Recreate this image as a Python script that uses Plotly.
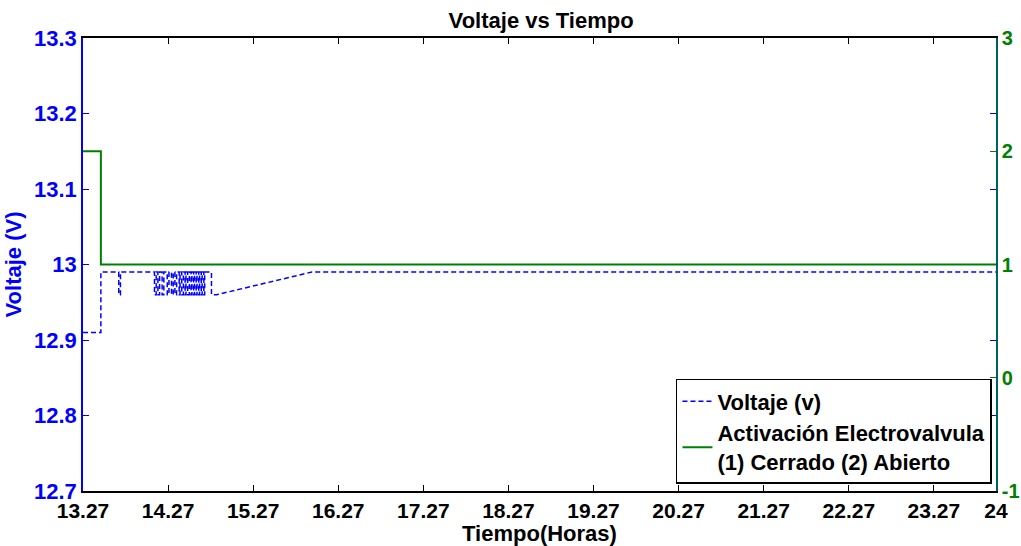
import plotly.graph_objects as go

# ---- data ----
volt_t = [13.27, 13.48, 13.48, 13.69, 13.69, 13.71, 13.71,
          14.11, 14.11, 14.13, 14.13, 14.15, 14.15, 14.17, 14.17, 14.20, 14.20, 14.22, 14.22,
          14.26, 14.26, 14.28, 14.28, 14.31, 14.31, 14.33, 14.33, 14.35, 14.35, 14.37, 14.37,
          14.40, 14.40, 14.41, 14.41, 14.43, 14.43, 14.45, 14.45, 14.47, 14.47, 14.48, 14.48,
          14.50, 14.50, 14.52, 14.52, 14.54, 14.54, 14.55, 14.55, 14.57, 14.57, 14.58, 14.58,
          14.60, 14.60, 14.61, 14.61, 14.63, 14.63, 14.64, 14.64, 14.66, 14.66, 14.67, 14.67,
          14.69, 14.69, 14.70, 14.70, 14.78, 14.78, 14.84, 15.96, 24.0]
volt_v = [12.91, 12.91, 12.99, 12.99, 12.96, 12.96, 12.99,
          12.99, 12.96, 12.96, 12.99, 12.99, 12.96, 12.96, 12.99, 12.99, 12.96, 12.96, 12.99,
          12.99, 12.96, 12.96, 12.99, 12.99, 12.96, 12.96, 12.99, 12.99, 12.96, 12.96, 12.99,
          12.99, 12.96, 12.96, 12.99, 12.99, 12.96, 12.96, 12.99, 12.99, 12.96, 12.96, 12.99,
          12.99, 12.96, 12.96, 12.99, 12.99, 12.96, 12.96, 12.99, 12.99, 12.96, 12.96, 12.99,
          12.99, 12.96, 12.96, 12.99, 12.99, 12.96, 12.96, 12.99, 12.99, 12.96, 12.96, 12.99,
          12.99, 12.96, 12.96, 12.99, 12.99, 12.96, 12.96, 12.99, 12.99]

valve_t = [13.27, 13.48, 13.48, 24.0]
valve_v = [2, 2, 1, 1]

x_tickvals = [13.27, 14.27, 15.27, 16.27, 17.27, 18.27, 19.27, 20.27, 21.27, 22.27, 23.27, 24]
x_ticktext = ["13.27", "14.27", "15.27", "16.27", "17.27", "18.27", "19.27",
              "20.27", "21.27", "22.27", "23.27", "24"]
y_tickvals = [12.7, 12.8, 12.9, 13.0, 13.1, 13.2, 13.3]
y_ticktext = ["12.7", "12.8", "12.9", "13", "13.1", "13.2", "13.3"]
y2_tickvals = [-1, 0, 1, 2, 3]
y2_ticktext = ["-1", "0", "1", "2", "3"]

FONT = "Liberation Sans, Arial, sans-serif"
BLUE = "#0000ff"
GREEN = "#008000"


def bold(labels):
    return ["<b>%s</b>" % t for t in labels]


fig = go.Figure()
fig.add_trace(go.Scatter(x=volt_t, y=volt_v, mode="lines", name="<b>Voltaje (v)</b>",
                         line=dict(color=BLUE, width=1.5, dash="5px,3px"), yaxis="y"))
fig.add_trace(go.Scatter(x=valve_t, y=valve_v, mode="lines",
                         name="<b>Activación Electrovalvula<br>(1) Cerrado (2) Abierto</b>",
                         line=dict(color=GREEN, width=2), yaxis="y2"))

fig.update_layout(
    width=1021, height=546,
    margin=dict(l=83, r=25, t=38, b=55, autoexpand=False),
    plot_bgcolor="white", paper_bgcolor="white",
    font=dict(family=FONT, size=22, color="black"),
    title=dict(text="<b>Voltaje vs Tiempo</b>", x=0.53, xanchor="center",
               y=1 - 20 / 546, yanchor="middle", yref="container",
               font=dict(size=22, color="black")),
    xaxis=dict(range=[13.27, 24], tickvals=x_tickvals, ticktext=bold(x_ticktext),
               ticks="inside", ticklen=6, tickcolor="black", showline=True,
               linecolor="black", linewidth=1.5, mirror="ticks", showgrid=False,
               zeroline=False, automargin=False,
               tickfont=dict(size=21, color="black", family=FONT),
               title=dict(text="<b>Tiempo(Horas)</b>", standoff=2,
                          font=dict(size=22, color="black"))),
    yaxis=dict(range=[12.7, 13.3], tickvals=y_tickvals, ticktext=bold(y_ticktext),
               ticks="inside", ticklen=6, tickcolor=BLUE, showline=True,
               linecolor=BLUE, linewidth=1.5, mirror="ticks", showgrid=False,
               zeroline=False, automargin=False,
               tickfont=dict(size=22, color=BLUE, family=FONT),
               title=dict(text="<b>Voltaje (V)</b>", standoff=6,
                          font=dict(size=22, color=BLUE))),
    yaxis2=dict(range=[-1, 3], tickvals=y2_tickvals, ticktext=bold(y2_ticktext),
                overlaying="y", side="right",
                ticks="inside", ticklen=6, tickcolor=GREEN, showline=True,
                linecolor="#006060", linewidth=1.5, showgrid=False, zeroline=False,
                automargin=False,
                tickfont=dict(size=20, color=GREEN, family=FONT)),
    legend=dict(x=0.9956, y=0.0155, xanchor="right", yanchor="bottom",
                bgcolor="white", bordercolor="black", borderwidth=1.5,
                font=dict(size=22, color="black", family=FONT),
                tracegroupgap=0, itemwidth=30),
    showlegend=True,
)

fig.write_html("out.html")
